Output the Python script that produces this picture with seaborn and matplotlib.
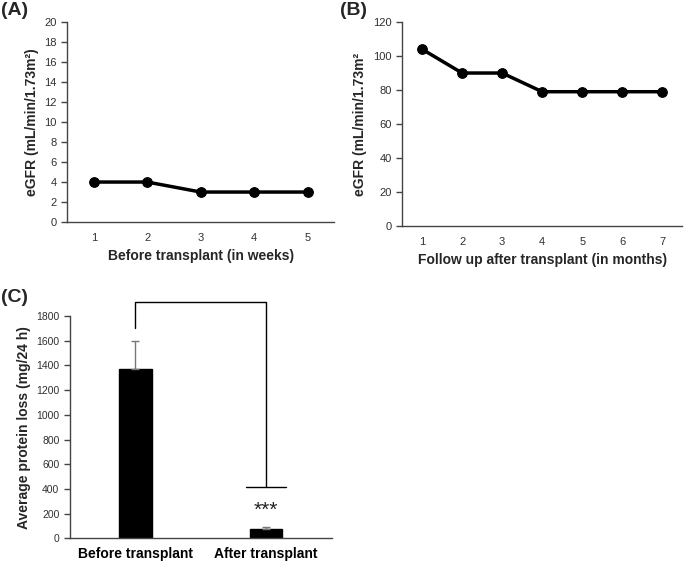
import numpy as np
import pandas as pd
import matplotlib.pyplot as plt
import seaborn as sns

# Panel A data: eGFR before transplant (weekly)
weeks = [1, 2, 3, 4, 5]
egfr_before = [4, 4, 3, 3, 3]

# Panel B data: eGFR after transplant (monthly)
months = [1, 2, 3, 4, 5, 6, 7]
egfr_after = [104, 90, 90, 79, 79, 79, 79]

# Panel C data: protein loss
groups = ['Before transplant', 'After transplant']
protein_mean = [1370, 75]
protein_err = [230, 15]
sig_label = '***'

sns.set_style('white')
plt.rcParams['font.family'] = ['Liberation Sans', 'DejaVu Sans']

fig = plt.figure(figsize=(6.85, 5.65), dpi=100)
ax_a = fig.add_axes([0.098, 0.607, 0.390, 0.354])
ax_b = fig.add_axes([0.587, 0.600, 0.409, 0.361])
ax_c = fig.add_axes([0.102, 0.047, 0.382, 0.394])

axis_col = '#444444'
tick_col = '#303030'


def style_axes(ax, n, x0, lsize=8):
    # Excel-like look: left/bottom spines, tick marks between categories
    for s in ['top', 'right']:
        ax.spines[s].set_visible(False)
    for s in ['left', 'bottom']:
        ax.spines[s].set_color(axis_col)
        ax.spines[s].set_linewidth(1.0)
    ax.set_xlim(x0 - 0.5, x0 + n - 0.5)
    ax.set_xticks(np.arange(x0 - 0.5, x0 + n, 1.0), minor=True)
    ax.tick_params(axis='x', which='major', length=0, pad=8, labelsize=lsize, labelcolor=tick_col)
    ax.tick_params(axis='x', which='minor', length=5, color=axis_col, width=1.0, direction='out')
    ax.tick_params(axis='y', length=4, color=axis_col, width=1.0, direction='out',
                   labelsize=lsize, labelcolor=tick_col, left=True)


# (A)
df_a = pd.DataFrame({'week': weeks, 'egfr': egfr_before})
sns.lineplot(data=df_a, x='week', y='egfr', ax=ax_a, color='black', linewidth=2.5,
             marker='o', markersize=7, markeredgecolor='black')
style_axes(ax_a, len(weeks), 1)
ax_a.set_xticks(weeks)
ax_a.set_ylim(0, 20)
ax_a.set_yticks(range(0, 21, 2))
ax_a.set_xlabel('Before transplant (in weeks)', fontsize=10, fontweight='bold', labelpad=4)
ax_a.set_ylabel('eGFR (mL/min/1.73m²)', fontsize=10, fontweight='bold', labelpad=4)

# (B)
df_b = pd.DataFrame({'month': months, 'egfr': egfr_after})
sns.lineplot(data=df_b, x='month', y='egfr', ax=ax_b, color='black', linewidth=2.5,
             marker='o', markersize=7, markeredgecolor='black')
style_axes(ax_b, len(months), 1)
ax_b.set_xticks(months)
ax_b.set_ylim(0, 120)
ax_b.set_yticks(range(0, 121, 20))
ax_b.set_xlabel('Follow up after transplant (in months)', fontsize=10, fontweight='bold', labelpad=4)
ax_b.set_ylabel('eGFR (mL/min/1.73m²', fontsize=10, fontweight='bold', labelpad=4)

# (C)
df_c = pd.DataFrame({'group': groups, 'mean': protein_mean})
sns.barplot(data=df_c, x='group', y='mean', ax=ax_c, color='black', width=0.25,
            edgecolor='black', errorbar=None)
ax_c.errorbar(range(len(groups)), protein_mean, yerr=[[0] * len(groups), protein_err],
              fmt='none', ecolor='#777777', elinewidth=1.0, capsize=3)
style_axes(ax_c, len(groups), 0, lsize=7.5)
ax_c.set_ylim(0, 1800)
ax_c.set_yticks(range(0, 1801, 200))
ax_c.tick_params(axis='x', which='major', labelsize=10, pad=6)
for lbl in ax_c.get_xticklabels():
    lbl.set_fontweight('bold')
    lbl.set_color('black')
ax_c.set_xlabel('')
ax_c.set_ylabel('Average protein loss (mg/24 h)', fontsize=10, fontweight='bold', labelpad=4)

# significance bracket
top = 1915
ax_c.plot([0, 0, 1, 1], [1700, top, top, 420], color='black', lw=1.0, clip_on=False)
ax_c.plot([0.85, 1.15], [420, 420], color='black', lw=1.0, clip_on=False)
ax_c.text(1, 225, sig_label, ha='center', va='center', fontsize=15, color='#222222')

# panel labels
fig.text(0.002, 0.982, '(A)', fontsize=14, fontweight='bold', va='center')
fig.text(0.497, 0.982, '(B)', fontsize=14, fontweight='bold', va='center')
fig.text(0.002, 0.474, '(C)', fontsize=14, fontweight='bold', va='center')

fig.savefig('out.png', dpi=100)
